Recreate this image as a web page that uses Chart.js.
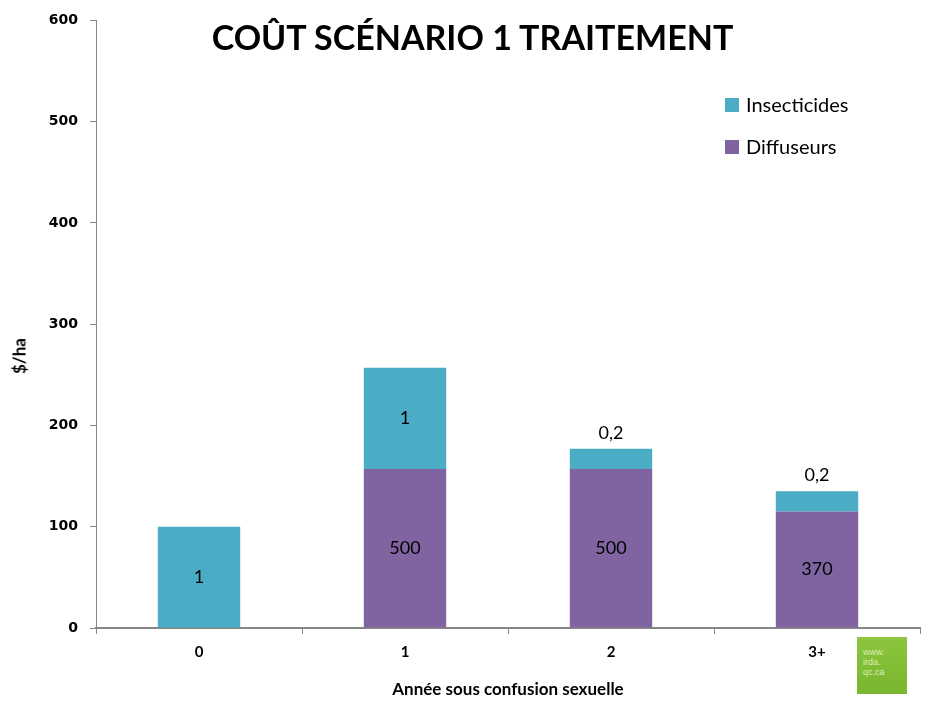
<!DOCTYPE html>
<html>
<head>
<meta charset="utf-8">
<script src="https://cdn.jsdelivr.net/npm/chart.js@4"></script>
<style>
  html, body { margin: 0; padding: 0; background: #fff; }
  #wrap { position: relative; width: 933px; height: 707px; }
  #titre { position: absolute; left: 0; width: 945px; top: 16px; text-align: center;
    font: bold 34px Lato, "Open Sans", sans-serif; color: #000; }
  #titreY { position: absolute; left: 19px; top: 356px; transform: translate(-50%, -50%) rotate(-90deg);
    font: bold 17px Lato, "Open Sans", sans-serif; color: #000; white-space: nowrap; }
  #legende { position: absolute; left: 725px; top: 92px; font: 20px Lato, "Open Sans", sans-serif; }
  #legende div { height: 42px; display: flex; align-items: flex-start; }
  #legende span.sw { display: inline-block; width: 14px; height: 14px; margin: 6px 7px 0 0; }
  #logo { position: absolute; left: 857px; top: 637px; width: 50px; height: 57px;
    background: linear-gradient(#8cc63e, #7ab52f); color: #d9efb8; font: 9px sans-serif;
    line-height: 10px; padding: 10px 0 0 6px; box-sizing: border-box; }
</style>
</head>
<body>
<div id="wrap">
  <canvas id="chart" width="933" height="707"></canvas>
  <div id="titre">COÛT SCÉNARIO 1 TRAITEMENT</div>
  <div id="titreY">$/ha</div>
  <div id="legende"></div>
  <div id="logo">www.<br>irda.<br>qc.ca</div>
</div>
<script>
// Données
const annees = ['0', '1', '2', '3+'];
const diffuseurs = [null, 157, 157, 115];
const insecticides = [100, 100, 20, 20];
const etiquettesDiffuseurs = ['', '500', '500', '370'];
const etiquettesInsecticides = ['1', '1', '0,2', '0,2'];
const ticksY = [0, 100, 200, 300, 400, 500, 600];

const couleurInsect = '#4BACC6';
const couleurDiff = '#8064A2';
const gris = '#868686';

// Étiquettes dans les barres (ou au-dessus si la barre est trop petite)
const etiquettes = {
  id: 'etiquettes',
  afterDatasetsDraw(chart) {
    const c = chart.ctx;
    c.save();
    c.font = '18px Lato, "Open Sans", sans-serif';
    c.fillStyle = '#000';
    c.textAlign = 'center';
    c.textBaseline = 'middle';
    chart.data.datasets.forEach((ds, i) => {
      const meta = chart.getDatasetMeta(i);
      meta.data.forEach((bar, j) => {
        const txt = ds.etiquettes[j];
        if (!txt || ds.data[j] == null) return;
        const h = bar.base - bar.y;
        const y = h < 30 ? bar.y - 16 : (bar.y + bar.base) / 2;
        c.fillText(txt, bar.x, y);
      });
    });
    c.restore();
  }
};

const ctx = document.getElementById('chart').getContext('2d');
const chart = new Chart(ctx, {
  type: 'bar',
  data: {
    labels: annees,
    datasets: [
      { label: 'Diffuseurs', data: diffuseurs, backgroundColor: couleurDiff,
        etiquettes: etiquettesDiffuseurs, barPercentage: 0.8, categoryPercentage: 0.5 },
      { label: 'Insecticides', data: insecticides, backgroundColor: couleurInsect,
        etiquettes: etiquettesInsecticides, barPercentage: 0.8, categoryPercentage: 0.5 }
    ]
  },
  plugins: [etiquettes],
  options: {
    responsive: false,
    animation: false,
    layout: { padding: { top: 19, right: 13, left: 0, bottom: 7 } },
    plugins: {
      legend: { display: false },
      tooltip: { enabled: false }
    },
    scales: {
      x: {
        stacked: true,
        grid: { drawOnChartArea: false, drawTicks: true, tickLength: 6, color: gris, offset: true },
        border: { color: gris, width: 2 },
        ticks: { color: '#000', padding: 9, font: { family: 'Lato, "Open Sans", sans-serif', size: 15, weight: 'bold' } },
        title: { display: true, text: 'Année sous confusion sexuelle', color: '#000', padding: { top: 2, bottom: 0 },
          font: { family: 'Lato, "Open Sans", sans-serif', size: 17, weight: 'bold' } },
        afterFit(s) { s.height = 72; }
      },
      y: {
        stacked: true,
        min: 0, max: 600,
        afterBuildTicks(s) { s.ticks = ticksY.map(v => ({ value: v })); },
        grid: { drawOnChartArea: false, drawTicks: true, tickLength: 6, color: gris },
        border: { color: gris, width: 1 },
        ticks: { color: '#000', padding: 12, font: { family: '"DejaVu Sans", sans-serif', size: 14, weight: 'bold' } },
        title: { display: false },
        afterFit(s) { s.width = 96; }
      }
    }
  }
});

// Légende maison : Insecticides au-dessus, Diffuseurs en dessous
const leg = document.getElementById('legende');
chart.data.datasets.slice().reverse().forEach(ds => {
  const d = document.createElement('div');
  d.innerHTML = '<span class="sw" style="background:' + ds.backgroundColor + '"></span>' + ds.label;
  leg.appendChild(d);
});
</script>
</body>
</html>
